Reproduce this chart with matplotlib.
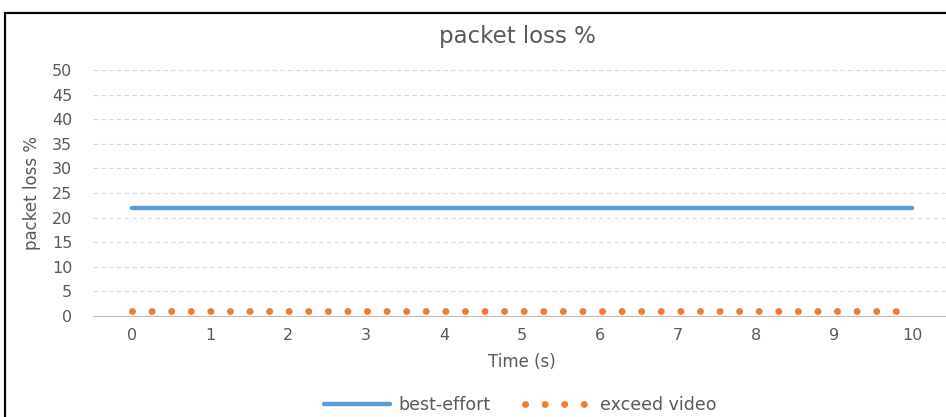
import matplotlib.pyplot as plt
from matplotlib.patches import Rectangle

# time points (s) and loss per traffic class
time_s = [0, 1, 2, 3, 4, 5, 6, 7, 8, 9, 10]
best_effort = [22, 22, 22, 22, 22, 22, 22, 22, 22, 22, 22]
exceed_video = [1, 1, 1, 1, 1, 1, 1, 1, 1, 1, 1]
y_ticks = [0, 5, 10, 15, 20, 25, 30, 35, 40, 45, 50]

BLUE = "#5B9BD5"
ORANGE = "#ED7D31"
TEXT = "#595959"
narrow = ["Liberation Sans Narrow", "DejaVu Sans"]

fig = plt.figure(figsize=(9.46, 4.17), dpi=100)
ax = fig.add_axes([93 / 946, 1 - 316 / 417, 858 / 946, 246 / 417])

ax.plot(time_s, best_effort, color=BLUE, lw=3.2, solid_capstyle="round",
        label="best-effort")
ax.plot(time_s, exceed_video, color=ORANGE, lw=5, linestyle=(0, (0.01, 2.81)),
        dash_capstyle="round", label="exceed video")

ax.set_xlim(-0.5, 10.5)
ax.set_ylim(0, 50)
ax.set_xticks(time_s)
ax.set_yticks(y_ticks)
ax.grid(axis="y", color="#D9D9D9", linestyle=(0, (4, 3)), lw=0.8)
ax.set_axisbelow(True)
for side in ["top", "right", "left"]:
    ax.spines[side].set_visible(False)
ax.spines["bottom"].set_color("#BFBFBF")
ax.tick_params(length=0, labelsize=11.5, labelcolor=TEXT)
ax.tick_params(axis="y", pad=15)
ax.tick_params(axis="x", pad=9)
ax.set_xlabel("Time (s)", fontsize=12, color=TEXT, labelpad=7)

fig.text(32 / 946, 1 - 193 / 417, "packet loss %", rotation=90, ha="center",
         va="center", fontsize=12, color=TEXT, family=narrow)
fig.text(517 / 946, 1 - 37 / 417, "packet loss %", ha="center", va="center",
         fontsize=16.5, color=TEXT)

fig.legend(loc="center", bbox_to_anchor=(520 / 946, 1 - 405 / 417), ncol=2,
           frameon=False, fontsize=12.5, labelcolor=TEXT, handlelength=3.8,
           handletextpad=0.5, columnspacing=2.0, borderpad=0)

# chart frame
fig.patches.append(Rectangle((5 / 946, -0.1), 1.1, 1 - 13 / 417 + 0.1,
                             transform=fig.transFigure, fill=False,
                             edgecolor="black", lw=1.6))

fig.savefig("out.png", dpi=100)
